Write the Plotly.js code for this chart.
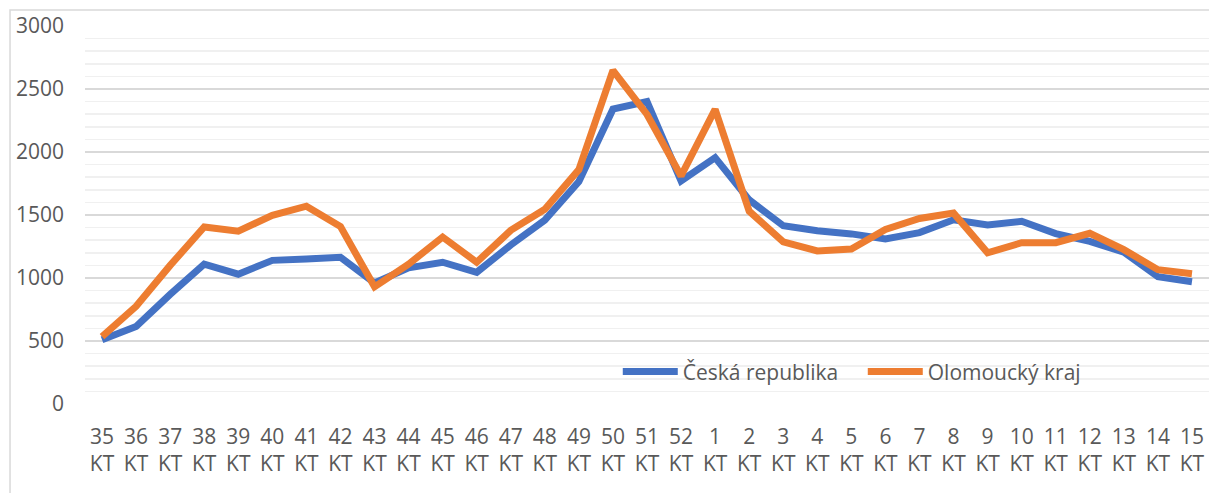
<!DOCTYPE html>
<html>
<head>
<meta charset="utf-8">
<script src="https://cdn.plot.ly/plotly-3.0.1.min.js"></script>
<style>
html,body{margin:0;padding:0;background:#fff;}
#chart{width:1209px;height:493px;}
</style>
</head>
<body>
<div id="chart"></div>
<script>
const weeks = ["35","36","37","38","39","40","41","42","43","44","45","46","47","48","49","50","51","52","1","2","3","4","5","6","7","8","9","10","11","12","13","14","15"];
const categoryLabels = weeks.map(w => w + "<br>KT");
const seriesNames = ["Česká republika", "Olomoucký kraj"];
const ceskaRepublika = [510,615,870,1110,1030,1140,1150,1165,960,1080,1125,1045,1262,1460,1765,2340,2400,1770,1955,1620,1415,1375,1350,1310,1360,1462,1420,1450,1352,1290,1205,1010,970];
const olomouckyKraj = [535,775,1100,1405,1372,1497,1570,1408,930,1110,1325,1125,1378,1545,1860,2648,2298,1810,2338,1530,1287,1215,1230,1386,1472,1515,1200,1280,1280,1355,1225,1066,1033];
const colors = ["#4472C4", "#ED7D31"];

const textColor = "#595959";
const font = {family: "'Open Sans', Lato, sans-serif", size: 21, color: textColor};

const traces = [ceskaRepublika, olomouckyKraj].map((vals, i) => ({
  type: "scatter",
  mode: "lines",
  name: seriesNames[i],
  x: categoryLabels,
  y: vals,
  line: {color: colors[i], width: 7},
  hoverinfo: "skip"
}));

const layout = {
  width: 1209,
  height: 493,
  margin: {l: 85, r: 0, t: 26, b: 89},
  paper_bgcolor: "#ffffff",
  plot_bgcolor: "#ffffff",
  font: font,
  showlegend: true,
  legend: {
    orientation: "h",
    x: 0.474, xanchor: "left",
    y: 0.085, yanchor: "middle",
    bgcolor: "rgba(0,0,0,0)",
    font: font,
    itemwidth: 55,
    entrywidth: 175,
    entrywidthmode: "pixels"
  },
  xaxis: {
    type: "category",
    range: [-0.5, 32.5],
    showgrid: false,
    zeroline: false,
    showline: false,
    ticks: "",
    tickfont: font,
    tickangle: 0,
    ticklabelstandoff: 18
  },
  yaxis: {
    range: [0, 3000],
    dtick: 500,
    tick0: 0,
    showgrid: true,
    gridcolor: "#d9d9d9",
    gridwidth: 1.5,
    zeroline: false,
    showline: false,
    ticks: "",
    tickfont: font,
    ticklabelstandoff: 20,
    minor: {dtick: 100, showgrid: true, gridcolor: "#f0f0f0", gridwidth: 1.5}
  },
  shapes: [{
    type: "rect", xref: "paper", yref: "paper",
    x0: -0.0667, x1: 1.2, y0: -0.6, y1: 1.0423,
    line: {color: "#d9d9d9", width: 1.5},
    fillcolor: "rgba(0,0,0,0)",
    layer: "below"
  }]
};

Plotly.newPlot("chart", traces, layout, {staticPlot: true, displayModeBar: false});
</script>
</body>
</html>
